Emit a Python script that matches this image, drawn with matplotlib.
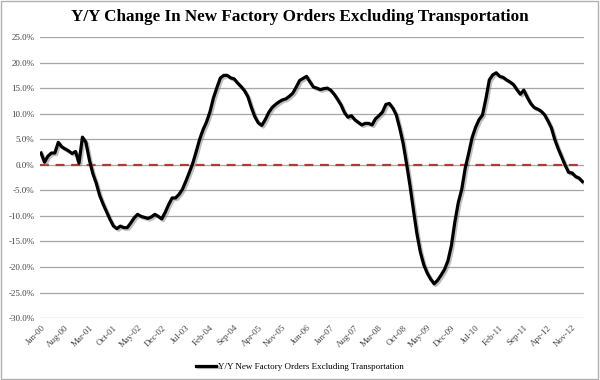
import matplotlib
matplotlib.use("Agg")
import matplotlib.pyplot as plt
import matplotlib.patheffects as pe

title = "Y/Y Change In New Factory Orders Excluding Transportation"
series_name = "Y/Y New Factory Orders Excluding Transportation"

# Monthly Y/Y % change, Jan-2000 .. Feb-2013
values = [
    2.3, 0.5, 1.7, 2.3, 2.3, 4.4, 3.5, 3.1, 2.7, 2.2, 2.6, 0.3,            # 2000
    5.4, 4.4, 1.0, -1.7, -3.6, -6.0, -7.7, -9.2, -10.7, -12.0, -12.5, -12.0,  # 2001
    -12.3, -12.3, -11.4, -10.4, -9.7, -10.1, -10.3, -10.5, -10.2, -9.7, -10.1, -10.6,  # 2002
    -9.3, -7.8, -6.5, -6.5, -5.8, -4.8, -3.2, -1.5, 0.3, 2.6, 5.0, 6.9,     # 2003
    8.4, 10.4, 13.1, 15.1, 17.0, 17.5, 17.5, 17.0, 16.8, 16.0, 15.3, 14.5,  # 2004
    13.3, 11.2, 9.4, 8.2, 7.7, 8.8, 10.2, 11.2, 11.8, 12.3, 12.7, 12.9,     # 2005
    13.4, 14.0, 15.2, 16.5, 16.9, 17.3, 16.2, 15.2, 15.0, 14.7, 14.9, 15.0,  # 2006
    14.6, 13.8, 12.8, 11.7, 10.2, 9.3, 9.6, 8.8, 8.3, 7.8, 8.1, 8.1,        # 2007
    7.8, 9.0, 9.6, 10.3, 11.8, 12.0, 11.1, 9.8, 7.2, 4.2, 0.2, -4.1,        # 2008
    -8.9, -13.5, -17.1, -19.6, -21.2, -22.4, -23.3, -22.6, -21.6, -20.5, -18.8, -15.8,  # 2009
    -11.2, -7.4, -4.8, -0.7, 2.2, 5.3, 7.3, 8.8, 9.7, 12.9, 16.6, 17.6,     # 2010
    18.0, 17.3, 17.1, 16.6, 16.2, 15.7, 14.7, 13.8, 14.6, 13.2, 12.0, 11.2,  # 2011
    10.9, 10.5, 9.8, 8.6, 7.2, 4.9, 3.1, 1.5, -0.1, -1.5, -1.6, -2.3,       # 2012
    -2.6, -3.3,                                                            # 2013
]

tick_labels = ["Jan-00", "Aug-00", "Mar-01", "Oct-01", "May-02", "Dec-02", "Jul-03",
               "Feb-04", "Sep-04", "Apr-05", "Nov-05", "Jun-06", "Jan-07", "Aug-07",
               "Mar-08", "Oct-08", "May-09", "Dec-09", "Jul-10", "Feb-11", "Sep-11",
               "Apr-12", "Nov-12"]
tick_step = 7

y_ticks = [25, 20, 15, 10, 5, 0, -5, -10, -15, -20, -25, -30]

serif = ["Liberation Serif", "DejaVu Serif"]

fig = plt.figure(figsize=(6, 3.8), dpi=100)
# thin outer border
fig.patches.append(plt.Rectangle((0.002, 0.003), 0.995, 0.994, transform=fig.transFigure,
                                 fill=False, edgecolor="#b0b0b0", linewidth=1.0))
ax = fig.add_axes([0.0667, 0.163, 0.9063, 0.7396])

x = list(range(len(values)))
for yv in y_ticks:
    ax.axhline(yv, color="#a6a6a6", linewidth=0.9, zorder=1)
ax.axhline(0, color="#b03a3a", linewidth=1.6, linestyle=(0, (4, 3)), zorder=2)

line, = ax.plot(x, values, color="black", linewidth=2.3, zorder=3,
                label=series_name,
                path_effects=[pe.SimpleLineShadow(offset=(1.2, -1.2), shadow_color="gray", alpha=0.5),
                              pe.Normal()])

ax.set_ylim(-30, 25)
ax.set_xlim(-0.3, len(values) - 0.6)
ax.set_yticks(y_ticks)
ax.set_yticklabels([f"{v:.1f}%" for v in y_ticks], fontsize=6.5, family=serif, color="#444444")
ax.set_xticks([i * tick_step for i in range(len(tick_labels))])
ax.set_xticklabels(tick_labels, rotation=45, ha="right", rotation_mode="anchor",
                   fontsize=6.5, family=serif, color="#444444")
ax.tick_params(axis="both", length=0, pad=4)
for s in ax.spines.values():
    s.set_visible(False)

fig.text(0.5, 0.955, title, ha="center", va="center", fontsize=12.3,
         fontweight="bold", family=serif)

leg = fig.legend(handles=[line], labels=[series_name], loc="center", bbox_to_anchor=(0.5, 0.035),
                 frameon=False, prop={"family": serif, "size": 6.5}, handlelength=2.2,
                 handletextpad=0.2)

fig.savefig("out.png", dpi=100)
